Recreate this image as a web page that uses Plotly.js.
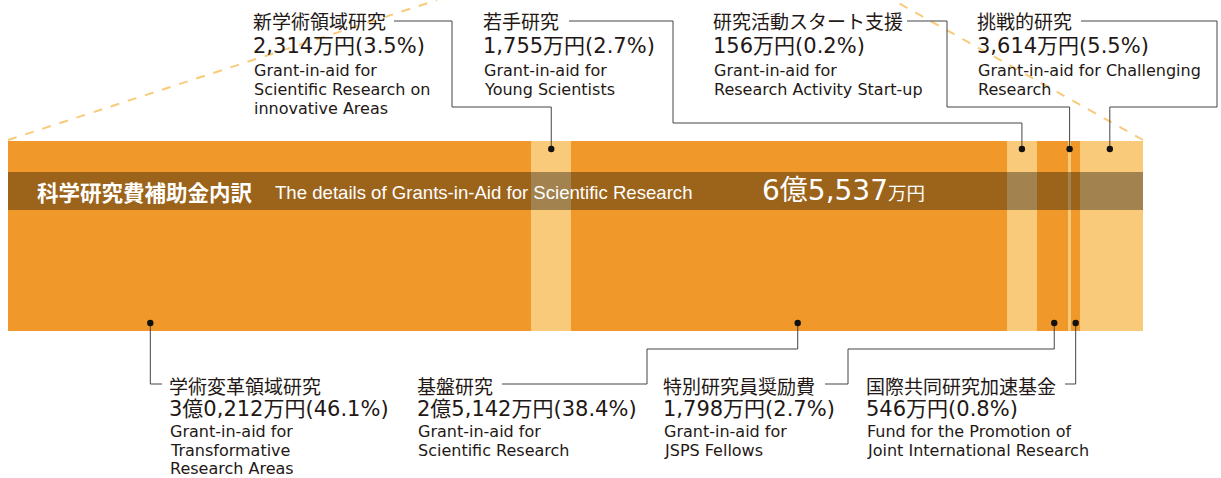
<!DOCTYPE html>
<html><head><meta charset="utf-8">
<script src="https://cdn.plot.ly/plotly-3.0.1.min.js"></script>
<style>html,body{margin:0;padding:0;background:#fff}#chart{width:1221px;height:478px}</style>
</head><body><div id="chart"></div>
<script>
// ---- data ----
const categoriesJa = ['学術変革領域研究','新学術領域研究','基盤研究','若手研究','特別研究員奨励費','研究活動スタート支援','国際共同研究加速基金','挑戦的研究'];
const valuesManYen = [30212, 2314, 25142, 1755, 1798, 156, 546, 3614];
const amountLabels = ['3億0,212万円(46.1%)','2,314万円(3.5%)','2億5,142万円(38.4%)','1,755万円(2.7%)','1,798万円(2.7%)','156万円(0.2%)','546万円(0.8%)','3,614万円(5.5%)'];
const englishLabels = [
  ['Grant-in-aid for','Transformative','Research Areas'],
  ['Grant-in-aid for','Scientific Research on','innovative Areas'],
  ['Grant-in-aid for','Scientific Research'],
  ['Grant-in-aid for','Young Scientists'],
  ['Grant-in-aid for','JSPS Fellows'],
  ['Grant-in-aid for','Research Activity Start-up'],
  ['Fund for the Promotion of','Joint International Research'],
  ['Grant-in-aid for Challenging','Research']
];
const headerJa = '科学研究費補助金内訳';
const headerEn = 'The details of Grants-in-Aid for Scientific Research';
const totalMain = '6億5,537';
const totalUnit = '万円';

// ---- layout helpers (pixels) ----
const W = 1221, H = 478;
const PL = 8, PR = 1143, PT = 141, PB = 331;
const total = valuesManYen.reduce((a,b)=>a+b,0);
const px = x => x / W;
const py = y => 1 - y / H;
const dataToPx = v => PL + v / total * (PR - PL);

const DARK = '#F0992A', LIGHT = '#F9CA7A';
const colors = ['dark','light','dark','light','dark','light','dark','light'];

const traces = categoriesJa.map((c,i)=>({
  type:'bar', orientation:'h', name:c,
  y:['内訳'], x:[valuesManYen[i]],
  marker:{color: colors[i]==='dark'?DARK:LIGHT, line:{width:0}},
  hoverinfo:'name+x', showlegend:false
}));

const starts = []; {let s=0; valuesManYen.forEach(v=>{starts.push(s); s+=v;});}
const anchorFrac = [0.272, 0.5, 0.52, 0.5, 0.55, 0.5, 0.5, 0.47];
const anchorX = valuesManYen.map((v,i)=>dataToPx(starts[i] + v*anchorFrac[i]));

const place = [
  {side:'b', x:169, route:(ax)=>`M ${ax} 323 V 384 H 162`},
  {side:'t', x:253, route:(ax)=>`M 394 21 H 452 V 107 H ${ax} V 149`},
  {side:'b', x:417, route:(ax)=>`M 502 384 H 647 V 349 H ${ax} V 323`},
  {side:'t', x:483, route:(ax)=>`M 569 21 H 673 V 123 H ${ax} V 149`},
  {side:'b', x:663, route:(ax)=>`M 825 384 H 848 V 349 H ${ax} V 323`},
  {side:'t', x:713, route:(ax)=>`M 907 21 H 947 V 107 H ${ax} V 149`},
  {side:'b', x:866, route:(ax)=>`M 1065 384 H ${ax} V 323`},
  {side:'t', x:977, route:(ax)=>`M 1081 21 H 1217 V 107 H ${ax} V 149`}
];

const JP = '"Noto Sans CJK JP", sans-serif';
const NUM = '"DejaVu Sans", "Noto Sans CJK JP", sans-serif';
const EN = '"DejaVu Sans", sans-serif';
const HEN = '"Liberation Sans", Arial, sans-serif';
const TXT = '#231815';

const annotations = [];
const shapes = [];

function toPaper(path){
  return path.replace(/([MHV]) ([\d.]+)(?: ([\d.]+))?/g,(m,cmd,a,b)=>{
    if(cmd==='M') return `M ${px(+a)},${py(+b)}`;
    if(cmd==='H') return `H ${px(+a)}`;
    return `V ${py(+a)}`;
  });
}

shapes.push({type:'line', xref:'paper', yref:'paper', x0:px(PL), y0:py(140), x1:px(437), y1:py(0), line:{color:LIGHT, width:2, dash:'dash'}, layer:'below'});
shapes.push({type:'line', xref:'paper', yref:'paper', x0:px(PR), y0:py(140), x1:px(893), y1:py(0), line:{color:LIGHT, width:2, dash:'dash'}, layer:'below'});

shapes.push({type:'rect', xref:'paper', yref:'paper', x0:px(PL), x1:px(PR), y0:py(210), y1:py(172), fillcolor:'rgba(0,0,0,0.35)', line:{width:0}, layer:'above'});

function note(x, y, text, font, h){
  return {xref:'paper', yref:'paper', x:px(x), y:py(y), xanchor:'left', yanchor:'middle', showarrow:false,
          text, font, height:h, borderpad:0, valign:'middle'};
}

categoriesJa.forEach((c,i)=>{
  const p = place[i];
  const ax = anchorX[i];
  shapes.push({type:'path', xref:'paper', yref:'paper', path:toPaper(p.route(ax)), line:{color:'#444', width:1}, layer:'above'});
  const dy = p.side==='t' ? 149 : 323;
  shapes.push({type:'circle', xref:'paper', yref:'paper', x0:px(ax-3.2), x1:px(ax+3.2), y0:py(dy+3.2), y1:py(dy-3.2), fillcolor:'#111', line:{width:0}, layer:'above'});
  const top = p.side==='t';
  const yTitle = top ? 21 : 385;
  const yAmt = top ? 46 : 408.5;
  const yEn = top ? [70.5, 89.5, 108.5] : [431, 450, 468.7];
  annotations.push(note(p.x-1, yTitle, c, {family:JP, size:19, color:TXT}, 21));
  annotations.push(note(p.x-1, yAmt, amountLabels[i], {family:NUM, size:21, color:TXT}, 23));
  englishLabels[i].forEach((t,k)=>{
    annotations.push(note(p.x, yEn[k], t, {family:EN, size:16, color:TXT}, 18.5));
  });
});

annotations.push(note(36, 191, '<b>'+headerJa+'</b>', {family:JP, size:21.5, color:'#fff'}, 30));
annotations.push(note(274, 192, headerEn, {family:HEN, size:18.6, color:'#fff'}, 26));
annotations.push(note(761, 190, totalMain+'<span style="font-size:18.5px">'+totalUnit+'</span>', {family:NUM, size:28, color:'#fff'}, 36));

const layout = {
  width:W, height:H, margin:{l:0,r:0,t:0,b:0},
  paper_bgcolor:'#fff', plot_bgcolor:'#fff',
  barmode:'stack', bargap:0,
  xaxis:{domain:[PL/W, PR/W], range:[0,total], visible:false, fixedrange:true},
  yaxis:{domain:[1-PB/H, 1-PT/H], range:[-0.5,0.5], visible:false, fixedrange:true},
  shapes, annotations, showlegend:false
};
Plotly.newPlot('chart', traces, layout, {displayModeBar:false, staticPlot:true});
</script>
</body></html>
